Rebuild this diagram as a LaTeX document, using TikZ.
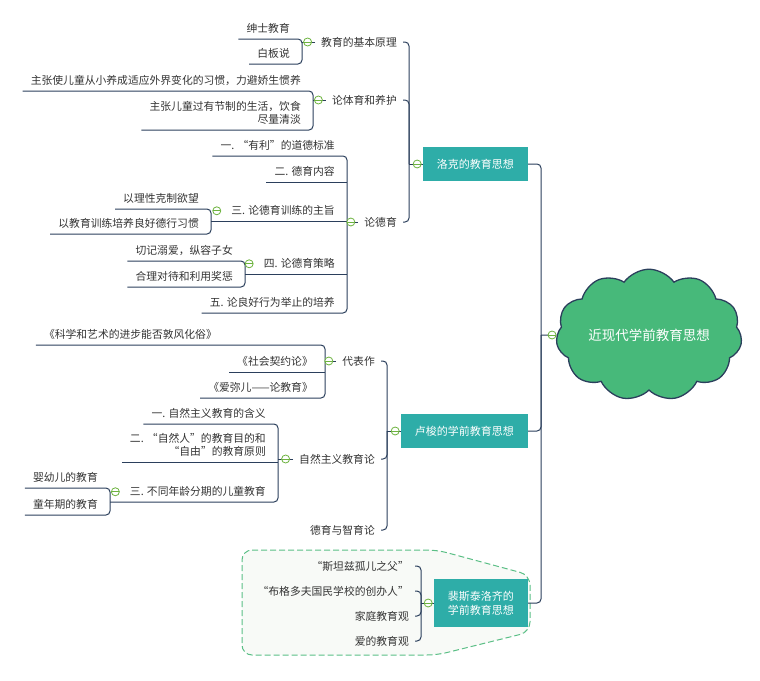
\documentclass[tikz,border=0pt]{standalone}
\usepackage{fontspec}
\setmainfont{Noto Sans CJK SC}
\usepackage{xcolor}
\usepackage{tikz}
\usetikzlibrary{positioning}
\usetikzlibrary{shapes.symbols}
\definecolor{linkNavy}{HTML}{2B3F5C}
\definecolor{boxTeal}{HTML}{2EADA8}
\definecolor{rootGreen}{HTML}{47B97A}
\definecolor{foldGreen}{HTML}{6DB33F}
\definecolor{zoneGreen}{HTML}{5BBF86}
\definecolor{zoneFill}{HTML}{F8FAF7}
\definecolor{labelGray}{HTML}{333333}
\tikzset{%
  rootIdea/.style={cloud, cloud puffs=11, cloud puff arc=110, aspect=1.55, draw=linkNavy, line width=1.3pt, fill=rootGreen, text=white, minimum width=186pt, minimum height=120pt, inner sep=0pt, font=\fontsize{13.5}{16}\selectfont},% central idea
  mainTopic/.style={rectangle, fill=boxTeal, text=white, anchor=east, inner xsep=14pt, inner ysep=12pt, align=left, font=\fontsize{11}{14}\selectfont},% teal boxes
  subTopic/.style={anchor=east, inner xsep=6pt, inner ysep=2pt, text=labelGray},% plain text topics
  leafTopic/.style={anchor=south east, inner xsep=8pt, inner ysep=5pt, align=right, text=labelGray},% underlined topics
  %
  foldMark/.style={circle, draw=foldGreen, fill=white, thick, minimum size=8pt, inner sep=0pt,
    path picture={\draw[foldGreen, thick] (path picture bounding box.west) -- (path picture bounding box.east);}},
  linkLine/.style={draw=linkNavy, line width=1pt, rounded corners=4pt},
  boundaryZone/.style={draw=zoneGreen, fill=zoneFill, dash pattern=on 6pt off 3pt, line width=1pt, rounded corners=10pt}}

\begin{document}
\begin{tikzpicture}[x=1pt, y=-1pt, font=\fontsize{10.8}{13}\selectfont]
    \useasboundingbox (0,0) rectangle (760,680);
    %Boundary
    \path[boundaryZone] (242,550) -- (437,550) -- (530,575) -- (530,632) -- (437,655) -- (242,655) -- cycle;

    %Nodes
    \node[rootIdea] (root) at (649,335) {近现代学前教育思想};
    \node[mainTopic] (locke) at (528,164) {洛克的教育思想};
    \node[mainTopic] (rousseau) at (528,431) {卢梭的学前教育思想};
    \node[mainTopic] (pestalozzi) at (528,603) {裴斯泰洛齐的\\学前教育思想};

    \node[subTopic] (principle) at (403,42) {教育的基本原理};
    \node[subTopic] (physical) at (403,100) {论体育和养护};
    \node[subTopic] (moral) at (403,222) {论德育};
    \node[subTopic] (works) at (381,361) {代表作};
    \node[subTopic] (naturalism) at (381,459) {自然主义教育论};
    \node[subTopic] (moralIntel) at (381,530) {德育与智育论};
    \node[subTopic] (father) at (415,566) {“斯坦兹孤儿之父”};
    \node[subTopic] (founder) at (415,591) {“布格多夫国民学校的创办人”};
    \node[subTopic] (family) at (415,616) {家庭教育观};
    \node[subTopic] (love) at (415,641) {爱的教育观};

    \node[leafTopic] (gentleman) at (298,39) {绅士教育};
    \node[leafTopic] (tabula) at (298,64) {白板说};
    \node[leafTopic] (habit) at (309,91) {主张使儿童从小养成适应外界变化的习惯，力避娇生惯养};
    \node[leafTopic] (diet) at (309,130) {主张儿童过有节制的生活，饮食\\尽量清淡};
    \node[leafTopic] (benefit) at (343,156) {一. “有利”的道德标准};
    \node[leafTopic] (content) at (343,182) {二. 德育内容};
    \node[leafTopic] (aim) at (343,221) {三. 论德育训练的主旨};
    \node[leafTopic] (method) at (343,274) {四. 论德育策略};
    \node[leafTopic] (manner) at (343,313) {五. 论良好行为举止的培养};
    \node[leafTopic] (reason) at (207,209) {以理性克制欲望};
    \node[leafTopic] (training) at (207,234) {以教育训练培养良好德行习惯};
    \node[leafTopic] (spoil) at (241,261) {切记溺爱，纵容子女};
    \node[leafTopic] (reward) at (241,287) {合理对待和利用奖惩};
    \node[leafTopic] (science) at (225,345) {《科学和艺术的进步能否敦风化俗》};
    \node[leafTopic] (contract) at (321,372) {《社会契约论》};
    \node[leafTopic] (emile) at (321,398) {《爱弥儿——论教育》};
    \node[leafTopic] (meaning) at (274,424) {一. 自然主义教育的含义};
    \node[leafTopic] (goal) at (274,462) {二. “自然人”的教育目的和\\“自由”的教育原则};
    \node[leafTopic] (stages) at (274,502) {三. 不同年龄分期的儿童教育};
    \node[leafTopic] (infant) at (106,488) {婴幼儿的教育};
    \node[leafTopic] (childhood) at (106,515) {童年期的教育};

    %Joints
    \coordinate (trunk) at (541,335);
    \coordinate (lockeJoin) at (409,164);
    \coordinate (rousseauJoin) at (387,431);
    \coordinate (pestalozziJoin) at (421,603);
    \coordinate (vPrinciple) at (302,0);
    \coordinate (vPhysical) at (313,0);
    \coordinate (vMoral) at (347,0);
    \coordinate (vAim) at (211,0);
    \coordinate (vMethod) at (245,0);
    \coordinate (vWorks) at (325,0);
    \coordinate (vNatural) at (278,0);
    \coordinate (vStages) at (110,0);

    %Lines
    \draw[linkLine] (root.west) -- (trunk);
    \foreach \topic in {locke,rousseau,pestalozzi} \draw[linkLine] (trunk) |- (\topic.east);
    \draw[linkLine] (locke.west) -- (lockeJoin);
    \foreach \topic in {principle,physical,moral} \draw[linkLine] (lockeJoin) |- (\topic.east);
    \draw[linkLine] (rousseau.west) -- (rousseauJoin);
    \foreach \topic in {works,naturalism,moralIntel} \draw[linkLine] (rousseauJoin) |- (\topic.east);
    \draw[linkLine] (pestalozzi.west) -- (pestalozziJoin);
    \foreach \topic in {father,founder,family,love} \draw[linkLine] (pestalozziJoin) |- (\topic.east);

    \draw[linkLine] (principle.west) -- (principle.west -| vPrinciple);
    \draw[linkLine] (gentleman.south west) -- (gentleman.south -| vPrinciple) -- (tabula.south -| vPrinciple) -- (tabula.south west);
    \draw[linkLine] (physical.west) -- (physical.west -| vPhysical);
    \draw[linkLine] (habit.south west) -- (habit.south -| vPhysical) -- (diet.south -| vPhysical) -- (diet.south west);
    \draw[linkLine] (moral.west) -- (moral.west -| vMoral);
    \draw[linkLine] (benefit.south west) -- (benefit.south -| vMoral) -- (manner.south -| vMoral) -- (manner.south west);
    \draw[linkLine] (content.south west) -- (content.south -| vMoral);
    \draw[linkLine] (aim.south -| vAim) -- (aim.south -| vMoral);
    \draw[linkLine] (method.south -| vMethod) -- (method.south -| vMoral);
    \draw[linkLine] (reason.south west) -- (reason.south -| vAim) -- (training.south -| vAim) -- (training.south west);
    \draw[linkLine] (spoil.south west) -- (spoil.south -| vMethod) -- (reward.south -| vMethod) -- (reward.south west);
    \draw[linkLine] (works.west) -- (works.west -| vWorks);
    \draw[linkLine] (science.south west) -- (science.south -| vWorks) -- (emile.south -| vWorks) -- (emile.south west);
    \draw[linkLine] (contract.south west) -- (contract.south -| vWorks);
    \draw[linkLine] (naturalism.west) -- (naturalism.west -| vNatural);
    \draw[linkLine] (meaning.south west) -- (meaning.south -| vNatural) -- (stages.south -| vNatural) -- (stages.south -| vStages);
    \draw[linkLine] (goal.south west) -- (goal.south -| vNatural);
    \draw[linkLine] (infant.south west) -- (infant.south -| vStages) -- (childhood.south -| vStages) -- (childhood.south west);

    %Fold marks
    \node[foldMark, left=0pt of root] (rootFold) {};
    \foreach \topic in {locke,rousseau,pestalozzi} \node[foldMark, left=1pt of \topic] (\topic Fold) {};
    \foreach \topic in {principle,physical,moral,works,naturalism} \node[foldMark, left=3pt of \topic] (\topic Fold) {};
    \foreach \topic in {aim,method,stages} \node[foldMark, left=2pt of \topic] (\topic Fold) {};
\end{tikzpicture}
\end{document}
